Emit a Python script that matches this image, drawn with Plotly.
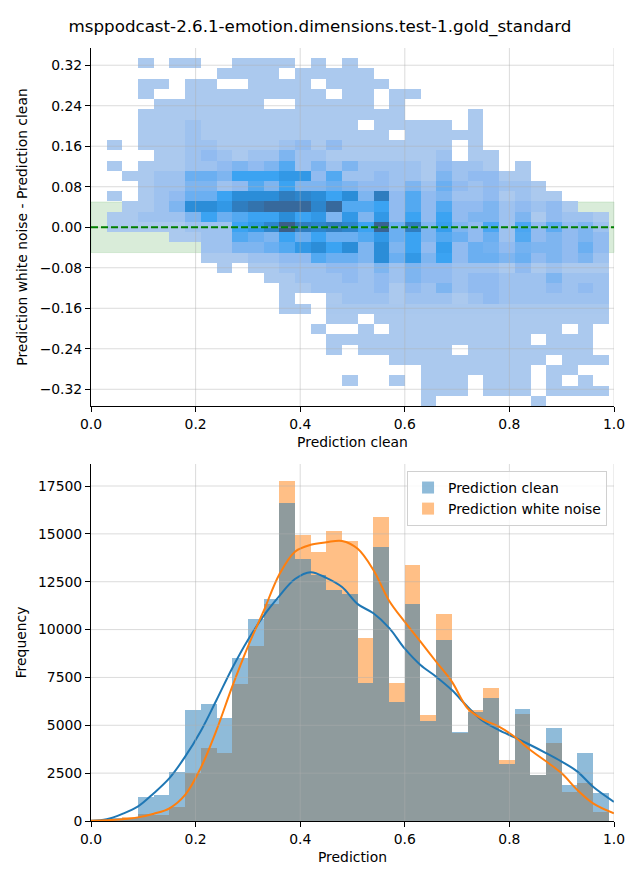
import numpy as np
import plotly.graph_objects as go

N = None

title_text = "msppodcast-2.6.1-emotion.dimensions.test-1.gold_standard"

# ---------------- bottom panel: histogram of predictions ----------------
bin_start = 0.0
bin_width = 0.03
clean_counts = [10, 150, 150, 1238, 1358, 2560, 5800, 6110, 5400, 8515, 10550, 11580, 16630,
                13670, 12850, 12070, 11860, 7225, 14310, 6215, 11340, 5225, 9455, 4650, 5680,
                6425, 2995, 5850, 2420, 4860, 1880, 3550, 1460]
noise_counts = [30, 100, 200, 365, 313, 750, 2490, 3830, 3570, 7170, 9160, 11340, 17780,
                14940, 14070, 15150, 14630, 9560, 15880, 7210, 13370, 5520, 10815, 4600, 5800,
                6950, 3200, 5590, 2380, 4075, 1515, 2000, 470]

# KDE curves
kde_x = [0.0, 0.03, 0.06, 0.09, 0.12, 0.15, 0.18, 0.21, 0.24, 0.27, 0.30, 0.33, 0.36, 0.39,
         0.42, 0.45, 0.48, 0.51, 0.54, 0.57, 0.60, 0.63, 0.66, 0.69, 0.72, 0.75, 0.78, 0.81,
         0.84, 0.87, 0.90, 0.93, 0.96, 1.0]
kde_clean = [15, 90, 370, 760, 1450, 2240, 3360, 4700, 6320, 7980, 9455, 10720, 11750, 12640,
             13000, 12700, 12220, 11330, 10850, 10090, 9000, 8150, 7540, 6840, 5970, 5210, 4750,
             4370, 3970, 3550, 3100, 2580, 1790, 1000]
kde_noise = [15, 40, 90, 190, 380, 660, 1360, 2780, 4750, 7020, 9110, 10960, 12880, 14070,
             14430, 14560, 14630, 14220, 13110, 11510, 10400, 9370, 8320, 7280, 5890, 5300, 4930,
             4400, 3710, 3120, 2490, 1620, 925, 400]

# ---------------- top panel: 2D histogram (difference vs clean) ----------------
diff_lo = -0.353
diff_width = 0.0202
# rows listed from top (highest difference) to bottom; 33 columns each (same x bins)
diff_counts_top_down = [
    [N] * 33,
    [N, N, N, 30, N, 30, 30, N, N, 30, 30, 30, 30, N, 30, N, 30] + [N] * 16,
    [N, N, N, N, N, N, N, N, 30, 30, 30, 30, N, 30, 30, 30, 30, 30] + [N] * 15,
    [N, N, N, 30, 30, N, 30, 30, N, N, 30, 30, 30, 30, N, 30, 30, 30, 30] + [N] * 14,
    [N, N, N, 30, N, N, 30, 30, 30, 30, 30, 30, 30, 30, 30, N, 30, 30, N, 30, 30] + [N] * 12,
    [N, N, N, N, 30, 30, 30, 30, 30, 30, 30, N, N, 30, 30, 30, 30, 30, N, 30] + [N] * 13,
    [N, N, N] + [30] * 17 + [N, N, N, N, 30] + [N] * 8,
    [N, N, N, 30, 30, 30, 200, 30, 30, 30, 30, 30, 30, 30, 30, 30, 30, N, 30, 30, 30, 30, 30, N, 30, N, N, N, N, N, N, N, N],
    [N, N, N, 30, 30, 30, 200, 30, 30, 30, 30, 30, 30, 30, 30, 30, 30, 30, 30, N, 30, 30, 30, 30, 30, N, N, N, N, N, N, N, N],
    [N, 30, N, 30, 30, 30, 200, 200, 30, 30, 30, 30, 200, 370, 30, 370, 30, 30, 30, 30, 30, 30, 30, N, 30, N, N, N, N, N, N, N, N],
    [N, N, N, N, 30, 30, 200, 370, 200, 30, 200, 200, 560, 200, 200, 30, 30, 30, 30, 30, 30, 30, 200, N, 30, 30, N, N, N, N, N, N, N],
    [N, 30, N, 30, 30, 30, 200, 200, 370, 560, 370, 560, 930, 200, 560, 200, 560, 200, 200, 200, 200, 30, 370, 200, 200, 30, N, 30, N, N, N, N, N],
    [N, N, 30, 30, 200, 200, 740, 740, 560, 1110, 1110, 1110, 1300, 1300, 370, 930, 200, 200, 370, 200, 200, 30, 560, 200, 370, 370, 30, 30, N, N, N, N, N],
    [N, N, N, 30, 200, 200, 560, 560, 200, 370, 930, 560, 1110, 560, 560, 740, 560, 370, 370, 200, 560, 200, 740, 370, 200, 370, 200, 200, 30, N, N, N, N],
    [N, 30, N, 30, 200, 370, 740, 740, 1110, 1490, 1490, 1490, 1860, 1670, 1490, 1110, 1490, 560, 1860, 370, 930, 370, 560, 200, 200, 370, 30, 200, 30, 30, N, N, N],
    [N, N, 30, 30, 200, 560, 1490, 1490, 1300, 1860, 2050, 2230, 2230, 2230, 1670, 2230, 930, 930, 1110, 370, 930, 370, 930, 370, 370, 560, 200, 370, 200, 370, 30, N, N],
    [N, 30, 30, 200, 200, 200, 560, 1110, 740, 930, 1110, 1110, 1490, 1110, 1300, 560, 1300, 560, 1300, 370, 1110, 370, 1110, 370, 560, 560, 200, 560, 30, 370, 200, 200, 30],
    [N, 30, 30, 30, 30, 30, 200, 200, 200, 1110, 1300, 1670, 2600, 1860, 1670, 1860, 1670, 1110, 2420, 740, 1860, 560, 1200, 560, 370, 1000, 200, 1000, 370, 850, 370, 560, 200],
    [N, N, N, N, N, 30, 30, 200, 200, 930, 740, 560, 1110, 740, 1110, 740, 740, 930, 1300, 740, 1110, 560, 930, 740, 370, 740, 200, 930, 370, 560, 370, 560, 370],
    [N, N, N, N, N, N, N, 200, 200, 560, 560, 740, 930, 1300, 1490, 1110, 1490, 560, 1490, 560, 1110, 370, 1200, 370, 740, 650, 370, 650, 560, 560, 370, 740, 370],
    [N, N, N, N, N, N, N, 30, 30, 30, 200, 200, 370, 370, 930, 740, 740, 560, 1490, 740, 1300, 560, 1110, 370, 740, 740, 560, 740, 370, 560, 370, 560, 200],
    [N, N, N, N, N, N, N, N, 30, N, 30, 30, 200, 200, 200, 370, 370, 200, 560, 200, 560, 370, 370, 200, 200, 200, 30, 370, 30, 200, 30, 30, 30],
    [N] * 11 + [30, 30, 200, 200, 200, 370, 200, 370, 200, 560, 370, 370, 200, 370, 370, 200, 200, 200, 560, 200, 200, 200],
    [N] * 12 + [30, 30, 200, 200, 200, 200, 370, 30, 370, 200, 560, 200, 370, 370, 200, 200, 200, 370, 200, 370, 200],
    [N] * 12 + [30, N, N, 30, 200, 200, 200, 30, 200, 200, 200, 30, 200, 370, 200, 200, 200, 200, 200, 200, 200],
    [N] * 12 + [30, 30, N] + [60] * 18,
    [N] * 15 + [30, 30, N] + [30] * 15,
    [N] * 14 + [30, N, N, 30, N] + [30] * 11 + [N, 30, N],
    [N] * 15 + [30] * 13 + [N, 30, 30, 30, N],
    [N] * 15 + [30, N, 30, 30, 30, 30, 30, 30, N] + [30] * 8 + [N],
    [N] * 19 + [30] * 10 + [N, 30, 30, 30],
    [N] * 21 + [30] * 7 + [N, 30, 30, N, N],
    [N] * 16 + [30, N, N, 30, N, 30, 30, 30, N, 30, 30, 30, N, 30, N, 30, N],
    [N] * 21 + [30, 30, 30, N, 30, 30, 30, N, 30, 30, 30, 30],
    [N] * 21 + [30, N, N, N, N, N, N, 30, N, N, N, N],
]

# ticks
top_xticks = [0.0, 0.2, 0.4, 0.6, 0.8, 1.0]
top_yticks = [-0.32, -0.24, -0.16, -0.08, 0.0, 0.08, 0.16, 0.24, 0.32]
bot_yticks = [0, 2500, 5000, 7500, 10000, 12500, 15000, 17500]

# ---------------- build ----------------
z = diff_counts_top_down[::-1]
n_rows = len(z)
x_edges = bin_start + bin_width * np.arange(len(clean_counts) + 1)
x_centers = (x_edges[:-1] + x_edges[1:]) / 2
y_edges = diff_lo + diff_width * np.arange(n_rows + 1)

colorscale = [
    [0.0, "#abc9ee"],
    [0.143, "#8fbaf0"],
    [0.286, "#68aef1"],
    [0.43, "#38a2f2"],
    [0.57, "#2b8dd8"],
    [0.714, "#2f7dbf"],
    [0.857, "#37699c"],
    [1.0, "#3b5e86"],
]

FONT = "DejaVu Sans"
fig = go.Figure()

fig.add_trace(go.Heatmap(
    x=x_edges, y=y_edges, z=z, colorscale=colorscale, zmin=30, zmax=2600,
    showscale=False, hoverongaps=False, xaxis="x", yaxis="y",
))

fig.add_trace(go.Bar(
    x=x_centers, y=noise_counts, width=bin_width, name="Prediction white noise",
    marker=dict(color="rgba(255,127,14,0.5)", line=dict(width=0)),
    xaxis="x2", yaxis="y2", legendrank=2,
))
fig.add_trace(go.Bar(
    x=x_centers, y=clean_counts, width=bin_width, name="Prediction clean",
    marker=dict(color="rgba(31,119,180,0.5)", line=dict(width=0)),
    xaxis="x2", yaxis="y2", legendrank=1,
))
fig.add_trace(go.Scatter(
    x=kde_x, y=kde_clean, mode="lines", line=dict(color="#1f77b4", width=2, shape="spline"),
    showlegend=False, xaxis="x2", yaxis="y2",
))
fig.add_trace(go.Scatter(
    x=kde_x, y=kde_noise, mode="lines", line=dict(color="#ff7f0e", width=2, shape="spline"),
    showlegend=False, xaxis="x2", yaxis="y2",
))

shapes = []
# green band
shapes.append(dict(type="rect", xref="x domain", yref="y", x0=0, x1=1, y0=-0.05, y1=0.05,
                   fillcolor="rgba(0,128,0,0.15)", line=dict(color="rgba(0,128,0,0.12)", width=1),
                   layer="below"))
grid = dict(color="rgba(176,176,176,0.45)", width=1)
for xv in top_xticks[1:]:
    shapes.append(dict(type="line", xref="x", yref="y domain", x0=xv, x1=xv, y0=0, y1=1,
                       line=grid, layer="above"))
    shapes.append(dict(type="line", xref="x2", yref="y2 domain", x0=xv, x1=xv, y0=0, y1=1,
                       line=grid, layer="above"))
for yv in top_yticks:
    shapes.append(dict(type="line", xref="x domain", yref="y", x0=0, x1=1, y0=yv, y1=yv,
                       line=grid, layer="above"))
for yv in bot_yticks[1:]:
    shapes.append(dict(type="line", xref="x2 domain", yref="y2", x0=0, x1=1, y0=yv, y1=yv,
                       line=grid, layer="above"))
# dashed zero line
shapes.append(dict(type="line", xref="x domain", yref="y", x0=0, x1=1, y0=0, y1=0,
                   line=dict(color="#008000", width=2, dash="7px,3px"), layer="above"))

axis_common = dict(showline=True, linecolor="black", linewidth=1, ticks="outside", ticklen=5,
                   tickwidth=1, tickcolor="black", showgrid=False, zeroline=False,
                   tickfont=dict(family=FONT, size=13.9, color="black"))

# the page body adds an 8px offset, so the figure is 8px smaller and margins shifted
FIG_W, FIG_H = 632, 872
M_L, M_R, M_T, M_B = 80, 26, 40, 59
plot_h = FIG_H - M_T - M_B  # 773
H_TOP = [415 / plot_h, 1.0]
H_BOT = [0.0, 357 / plot_h]

fig.update_layout(
    width=FIG_W, height=FIG_H,
    margin=dict(l=M_L, r=M_R, t=M_T, b=M_B),
    paper_bgcolor="white", plot_bgcolor="white",
    font=dict(family=FONT, size=13.9, color="black"),
    title=dict(text=title_text, x=312 / FIG_W, xref="container", xanchor="center",
               y=1 - 18 / FIG_H, yref="container", yanchor="middle",
               font=dict(family=FONT, size=16.7, color="black")),
    barmode="overlay", bargap=0,
    showlegend=True,
    legend=dict(x=(607 - 88) / 526, xanchor="right", y=(821 - 471) / plot_h, yanchor="top",
                xref="paper", yref="paper",
                bgcolor="rgba(255,255,255,0.8)", bordercolor="#d0d0d0", borderwidth=1,
                font=dict(family=FONT, size=13.9), traceorder="normal"),
    shapes=shapes,
    xaxis=dict(domain=[0, 1], anchor="y", range=[0, 1], tickvals=top_xticks, tickformat=".1f",
               title=dict(text="Prediction clean", standoff=6, font=dict(family=FONT, size=13.9)),
               **axis_common),
    yaxis=dict(domain=H_TOP, anchor="x", range=[diff_lo, diff_lo + diff_width * n_rows],
               tickvals=top_yticks, tickformat=".2f",
               title=dict(text="Prediction white noise - Prediction clean", standoff=8,
                          font=dict(family=FONT, size=13.9)),
               **axis_common),
    xaxis2=dict(domain=[0, 1], anchor="y2", range=[0, 1], tickvals=top_xticks, tickformat=".1f",
                title=dict(text="Prediction", standoff=6, font=dict(family=FONT, size=13.9)),
                **axis_common),
    yaxis2=dict(domain=H_BOT, anchor="x2", range=[0, 18650], tickvals=bot_yticks, tickformat="d",
                title=dict(text="Frequency", standoff=8, font=dict(family=FONT, size=13.9)),
                **axis_common),
)

fig.write_html("out.html")
